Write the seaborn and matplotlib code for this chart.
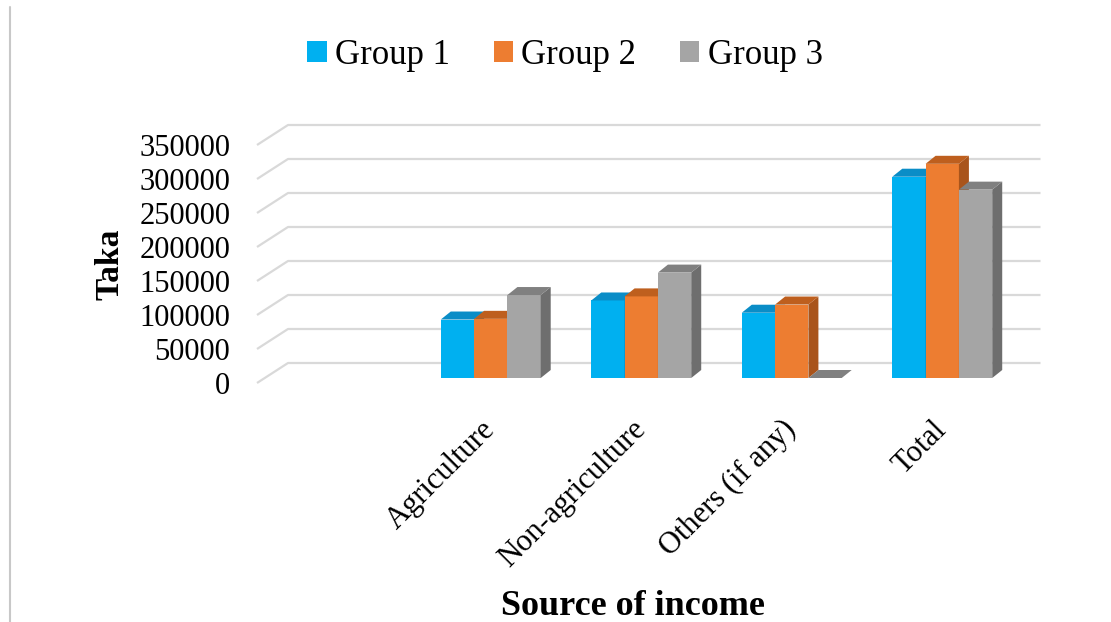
import matplotlib
matplotlib.use("Agg")
import matplotlib.pyplot as plt
import matplotlib.transforms as mtransforms
from matplotlib.patches import Polygon
from matplotlib.lines import Line2D
import seaborn as sns
import pandas as pd

# ---- data ----
categories = ["(blank)", "Agriculture", "Non-agriculture", "Others (if any)", "Total"]
tick_labels = ["", "Agriculture", "Non-agriculture", "Others (if any)", "Total"]
groups = ["Group 1", "Group 2", "Group 3"]
group1 = [86000, 114000, 96000, 296000]
group2 = [87000, 120000, 108000, 315000]
group3 = [122000, 155000, 0, 277000]
data_categories = categories[1:]
y_ticks = [0, 50000, 100000, 150000, 200000, 250000, 300000, 350000]

front_colors = ["#00B0F0", "#ED7D31", "#A5A5A5"]
top_colors = ["#0A8DC7", "#BE5F1E", "#808080"]
side_colors = ["#0A7FB3", "#A9541B", "#6E6E6E"]

rows = []
for g, vals in zip(groups, [group1, group2, group3]):
    for c, v in zip(data_categories, vals):
        rows.append({"Source": c, "Taka": v, "Group": g})
df = pd.DataFrame(rows)

sns.set_theme(style="white")
plt.rcParams["font.family"] = ["Liberation Serif", "DejaVu Serif"]
plt.rcParams["text.color"] = "black"
plt.rcParams["axes.labelcolor"] = "black"
plt.rcParams["xtick.color"] = "black"
plt.rcParams["ytick.color"] = "black"

W, H = 1111, 622
fig = plt.figure(figsize=(W / 100, H / 100), dpi=100)
ax_left, ax_right, ax_bottom, ax_top = 265, 1017.5, 378, 140
ax = fig.add_axes([ax_left / W, (H - ax_bottom) / H,
                   (ax_right - ax_left) / W, (ax_bottom - ax_top) / H])

sns.barplot(data=df, x="Source", y="Taka", hue="Group", order=categories,
            hue_order=groups, palette=front_colors, saturation=1,
            width=0.664, linewidth=0, ax=ax, legend=True)

xmin, xmax = -0.5, len(categories) - 0.5
ymin, ymax = 0, 350000
px_x = (ax_right - ax_left) / (xmax - xmin)      # pixels per x unit
px_y = (ax_bottom - ax_top) / (ymax - ymin)      # pixels per y unit

# pseudo-3D faces derived from the seaborn bars
dx = 10 / px_x
dy = 8 / px_y
bars = [p for p in ax.patches if hasattr(p, "get_width") and p.get_width() > 0]
bars.sort(key=lambda p: p.get_x())
for j, p in enumerate(bars):
    x, w, h = p.get_x(), p.get_width(), p.get_height()
    fc = matplotlib.colors.to_hex(p.get_facecolor())
    k = [c.lower() for c in front_colors].index(fc.lower())
    z = 3 + 0.01 * j
    p.set_zorder(z)
    side = Polygon([(x + w, 0), (x + w, h), (x + w + dx, h + dy), (x + w + dx, dy)],
                   closed=True, facecolor=side_colors[k], edgecolor="none",
                   zorder=z + 0.001, clip_on=False)
    top = Polygon([(x, h), (x + w, h), (x + w + dx, h + dy), (x + dx, h + dy)],
                  closed=True, facecolor=top_colors[k], edgecolor="none",
                  zorder=z + 0.002, clip_on=False)
    ax.add_patch(side)
    ax.add_patch(top)

# back-wall gridlines with slanted left segment
for v in y_ticks:
    xs = [xmin - 8 / px_x, xmin + 23 / px_x, xmax + 23 / px_x]
    ys = [v - 5 / px_y, v + 15 / px_y, v + 15 / px_y]
    ax.plot(xs, ys, color="#d9d9d9", lw=1.6, clip_on=False, zorder=0.5,
            solid_capstyle="butt")

ax.set_xlim(xmin, xmax)
ax.set_ylim(ymin, ymax)
for s in ax.spines.values():
    s.set_visible(False)
ax.grid(False)

ax.set_yticks(y_ticks)
ax.set_yticklabels([f"{v:d}" for v in y_ticks], fontsize=22, color="black")
ax.tick_params(axis="y", length=0, pad=25)
off = mtransforms.ScaledTranslation(0, -0.05, fig.dpi_scale_trans)
for lab in ax.get_yticklabels():
    lab.set_transform(lab.get_transform() + off)

ax.set_xticks(range(len(categories)))
ax.set_xticklabels(tick_labels, fontsize=22, rotation=45, ha="right",
                   va="center", rotation_mode="anchor", color="black")
ax.tick_params(axis="x", length=0, pad=34)

ax.set_ylabel("Taka", fontsize=24, fontweight="bold", color="black")
ax.yaxis.set_label_coords((110 - ax_left) / (ax_right - ax_left),
                          (ax_bottom - 264) / (ax_bottom - ax_top))
ax.yaxis.label.set_va("center")
ax.set_xlabel("Source of income", fontsize=26, fontweight="bold", color="black")
ax.xaxis.set_label_coords((633 - ax_left) / (ax_right - ax_left),
                          (ax_bottom - 615) / (ax_bottom - ax_top))
ax.xaxis.label.set_va("baseline")

handles, labels = ax.get_legend_handles_labels()
leg = ax.legend(handles, labels, loc="center", bbox_to_anchor=(565 / W, 1 - 55 / H),
                bbox_transform=fig.transFigure, ncol=3, frameon=False, fontsize=25,
                handlelength=0.55, handleheight=0.55, handletextpad=0.25,
                columnspacing=1.25, borderaxespad=0)
for t in leg.get_texts():
    t.set_color("black")

# faint left border of the original chart area
fig.add_artist(Line2D([9.5 / W, 9.5 / W], [0, 1 - 7 / H], transform=fig.transFigure,
                      color="#c8c8c8", lw=1.5))

fig.savefig("out.png", dpi=100)
